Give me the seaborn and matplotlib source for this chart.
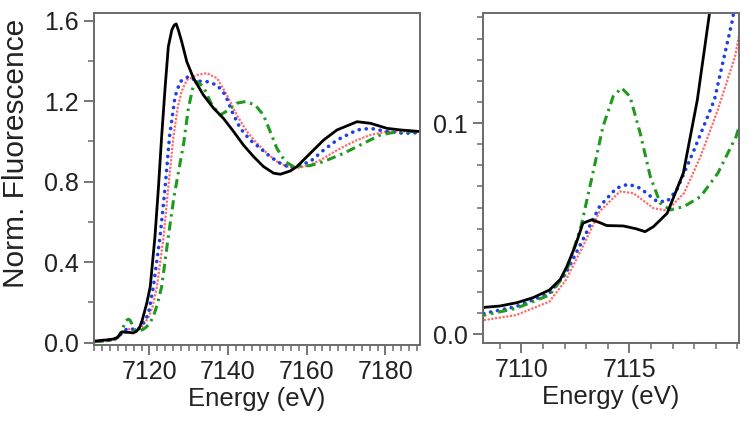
import numpy as np
import pandas as pd
import matplotlib
matplotlib.use("Agg")
import matplotlib.pyplot as plt
from matplotlib.ticker import MultipleLocator
import seaborn as sns

# ---- data ----
black_x = [7106.0, 7107.2, 7108.3, 7109.0, 7109.8, 7110.55, 7111.3, 7111.8, 7112.1, 7112.5, 7112.85,
           7113.25, 7113.6, 7113.95, 7114.72, 7115.3, 7115.73, 7116.12, 7116.75, 7117.5, 7118.15,
           7118.7, 7119.3, 7120.2, 7121.4, 7122.3, 7123.1, 7124.0, 7124.8, 7125.7, 7126.3, 7126.8,
           7127.4, 7128.2, 7129.5, 7131.2, 7133.7, 7136.3, 7138.8, 7141.4, 7143.9, 7146.5, 7149.0,
           7151.6, 7153.3, 7155.8, 7157.5, 7160.9, 7164.3, 7167.7, 7172.8, 7176.2, 7180.4, 7183.9,
           7189.5]
black_y = [0.008, 0.010, 0.0128, 0.0134, 0.015, 0.0174, 0.021, 0.026, 0.032, 0.042, 0.0526,
           0.0542, 0.053, 0.0515, 0.0513, 0.050, 0.0486, 0.051, 0.0573, 0.0763, 0.111,
           0.151, 0.195, 0.278, 0.527, 0.775, 1.024, 1.272, 1.471, 1.554, 1.578, 1.584,
           1.55, 1.496, 1.396, 1.314, 1.231, 1.165, 1.115, 1.049, 0.982, 0.924, 0.875,
           0.842, 0.837, 0.853, 0.875, 0.941, 1.007, 1.057, 1.098, 1.09, 1.065, 1.057,
           1.048]

blue_x = [7106.0, 7107.2, 7108.3, 7109.75, 7111.3, 7112.06, 7112.84, 7113.62, 7114.4, 7114.95, 7115.5,
          7116.28, 7116.75, 7117.2, 7118.0, 7118.94, 7119.8, 7121.0, 7122.7, 7124.0, 7125.1, 7126.5,
          7127.8, 7129.9, 7132.1, 7134.6, 7137.2, 7139.3, 7141.0, 7143.1, 7145.6, 7148.2, 7150.7,
          7153.3, 7155.8, 7157.9, 7160.9, 7164.3, 7167.7, 7172.8, 7176.2, 7180.4, 7184.6, 7189.5]
blue_y = [0.006, 0.008, 0.00995, 0.0131, 0.0194, 0.0289, 0.0447, 0.0605, 0.0692, 0.0711, 0.0692,
          0.0629, 0.0629, 0.0684, 0.0873, 0.111, 0.1498, 0.278, 0.527, 0.775, 1.024, 1.222,
          1.297, 1.322, 1.30, 1.297, 1.28, 1.231, 1.148, 1.065, 1.007, 0.966, 0.924,
          0.891, 0.87, 0.88, 0.90, 0.957, 1.007, 1.057, 1.065, 1.049, 1.04, 1.044]

red_x = [7106.0, 7107.2, 7108.3, 7109.75, 7111.3, 7112.06, 7112.84, 7113.62, 7114.56, 7115.19, 7116.12,
         7116.75, 7117.53, 7118.3, 7119.1, 7119.9, 7120.8, 7121.9, 7123.6, 7124.8, 7126.1, 7127.2,
         7128.2, 7129.5, 7132.1, 7134.6, 7137.2, 7139.7, 7142.2, 7144.8, 7147.3, 7149.9, 7152.4,
         7155.0, 7157.5, 7160.9, 7164.3, 7167.7, 7172.8, 7176.2, 7180.4, 7189.5]
red_y = [0.004, 0.005, 0.0068, 0.0091, 0.0155, 0.0257, 0.0415, 0.0581, 0.0676, 0.0668, 0.0597,
         0.0586, 0.0668, 0.0842, 0.1063, 0.1316, 0.18, 0.278, 0.527, 0.775, 1.024, 1.17,
         1.25, 1.305, 1.33, 1.339, 1.314, 1.231, 1.131, 1.049, 0.991, 0.941, 0.90,
         0.875, 0.867, 0.883, 0.916, 0.957, 1.007, 1.032, 1.049, 1.05]

green_x = [7106.0, 7107.2, 7108.3, 7109.75, 7111.3, 7112.06, 7112.76, 7113.31, 7113.78, 7114.25, 7114.64,
           7115.03, 7115.5, 7115.97, 7116.43, 7116.9, 7117.53, 7118.3, 7119.1, 7119.95, 7121.0, 7122.0,
           7123.1, 7124.8, 7126.2, 7127.4, 7128.7, 7129.9, 7131.2, 7132.1, 7133.7, 7135.9, 7138.0,
           7140.1, 7142.2, 7144.4, 7146.9, 7149.0, 7150.7, 7152.4, 7154.5, 7156.6, 7160.9, 7164.3,
           7169.4, 7174.5, 7178.7, 7182.9, 7189.5]
green_y = [0.005, 0.007, 0.0091, 0.0123, 0.0186, 0.0289, 0.051, 0.0763, 0.0984, 0.1126, 0.1166,
           0.1126, 0.0953, 0.0747, 0.0621, 0.0589, 0.0605, 0.0652, 0.0763, 0.0937, 0.13, 0.19,
           0.278, 0.527, 0.72, 0.85, 0.99, 1.165, 1.281, 1.297, 1.272, 1.181, 1.131,
           1.156, 1.19, 1.198, 1.181, 1.131, 1.049, 0.966, 0.90, 0.875, 0.88, 0.90,
           0.941, 0.991, 1.032, 1.048, 1.05]

series_names = ["black", "blue", "red", "green"]
left_ticks_x = [7120, 7140, 7160, 7180]
left_ticks_y = [0.0, 0.4, 0.8, 1.2, 1.6]
right_ticks_x = [7110, 7115]
right_ticks_y = [0.0, 0.1]
xlabel_text = "Energy (eV)"
ylabel_text = "Norm. Fluorescence"

frames = []
for name, xs, ys in zip(series_names, [black_x, blue_x, red_x, green_x],
                        [black_y, blue_y, red_y, green_y]):
    frames.append(pd.DataFrame({"energy": xs, "fluor": ys, "series": name}))
df = pd.concat(frames, ignore_index=True)

sns.set_theme(style="white")
plt.rcParams["font.family"] = ["Liberation Sans", "DejaVu Sans"]

styles = {
    "black": dict(color="#000000", lw=2.0, ls="-"),
    "blue": dict(color="#1f3fe8", lw=2.6, ls=(0, (0.05, 1.9)), dash_capstyle="round"),
    "red": dict(color="#ff6a6a", lw=1.6, ls=(0, (1, 0.7))),
    "green": dict(color="#1f9a1f", lw=2.2, ls=(0, (3, 1.6, 0.8, 1.6))),
}
order = ["red", "blue", "green", "black"]

fig = plt.figure(figsize=(7.5, 4.28), dpi=100)
axL = fig.add_axes([94 / 750, 1 - 345 / 428, (420 - 94) / 750, (345 - 13) / 428])
axR = fig.add_axes([483 / 750, 1 - 343 / 428, (739 - 483) / 750, (343 - 13) / 428])

for ax in (axL, axR):
    for name in order:
        sub = df[df["series"] == name]
        st = styles[name]
        extra = {"dash_capstyle": st["dash_capstyle"]} if "dash_capstyle" in st else {}
        sns.lineplot(data=sub, x="energy", y="fluor", ax=ax, color=st["color"], lw=st["lw"],
                     ls=st["ls"], sort=False, estimator=None, legend=False, **extra)

axL.set_xlim(7105.9, 7188.8)
axL.set_ylim(-0.0114, 1.638)
axL.set_xticks(left_ticks_x)
axL.set_yticks(left_ticks_y)
axL.xaxis.set_minor_locator(MultipleLocator(2))
axL.yaxis.set_minor_locator(MultipleLocator(0.2))
axL.set_yticklabels([f"{v:.1f}" for v in left_ticks_y])

axR.set_xlim(7108.22, 7120.08)
axR.set_ylim(-0.0041, 0.1521)
axR.set_xticks(right_ticks_x)
axR.set_yticks(right_ticks_y)
axR.xaxis.set_minor_locator(MultipleLocator(1))
axR.yaxis.set_minor_locator(MultipleLocator(0.01))
axR.set_yticklabels([f"{v:.1f}" for v in right_ticks_y])

for ax in (axL, axR):
    for sp in ax.spines.values():
        sp.set_visible(True)
        sp.set_color("#6a6a6a")
        sp.set_linewidth(1.4)
    ax.tick_params(which="major", direction="out", length=7, width=1.3, color="#6a6a6a",
                   labelsize=18, labelcolor="#222222", pad=4, bottom=True, left=True)
    ax.tick_params(which="minor", direction="out", length=4, width=1.1, color="#6a6a6a",
                   bottom=True, left=True)
    ax.set_xlabel(xlabel_text, fontsize=18.5, color="#222222", labelpad=2)
    ax.set_ylabel("")
    ax.grid(False)

axL.set_ylabel(ylabel_text, fontsize=21.5, color="#222222")
axL.yaxis.set_label_coords(-0.195, 0.577)

fig.savefig("out.png", dpi=100)
